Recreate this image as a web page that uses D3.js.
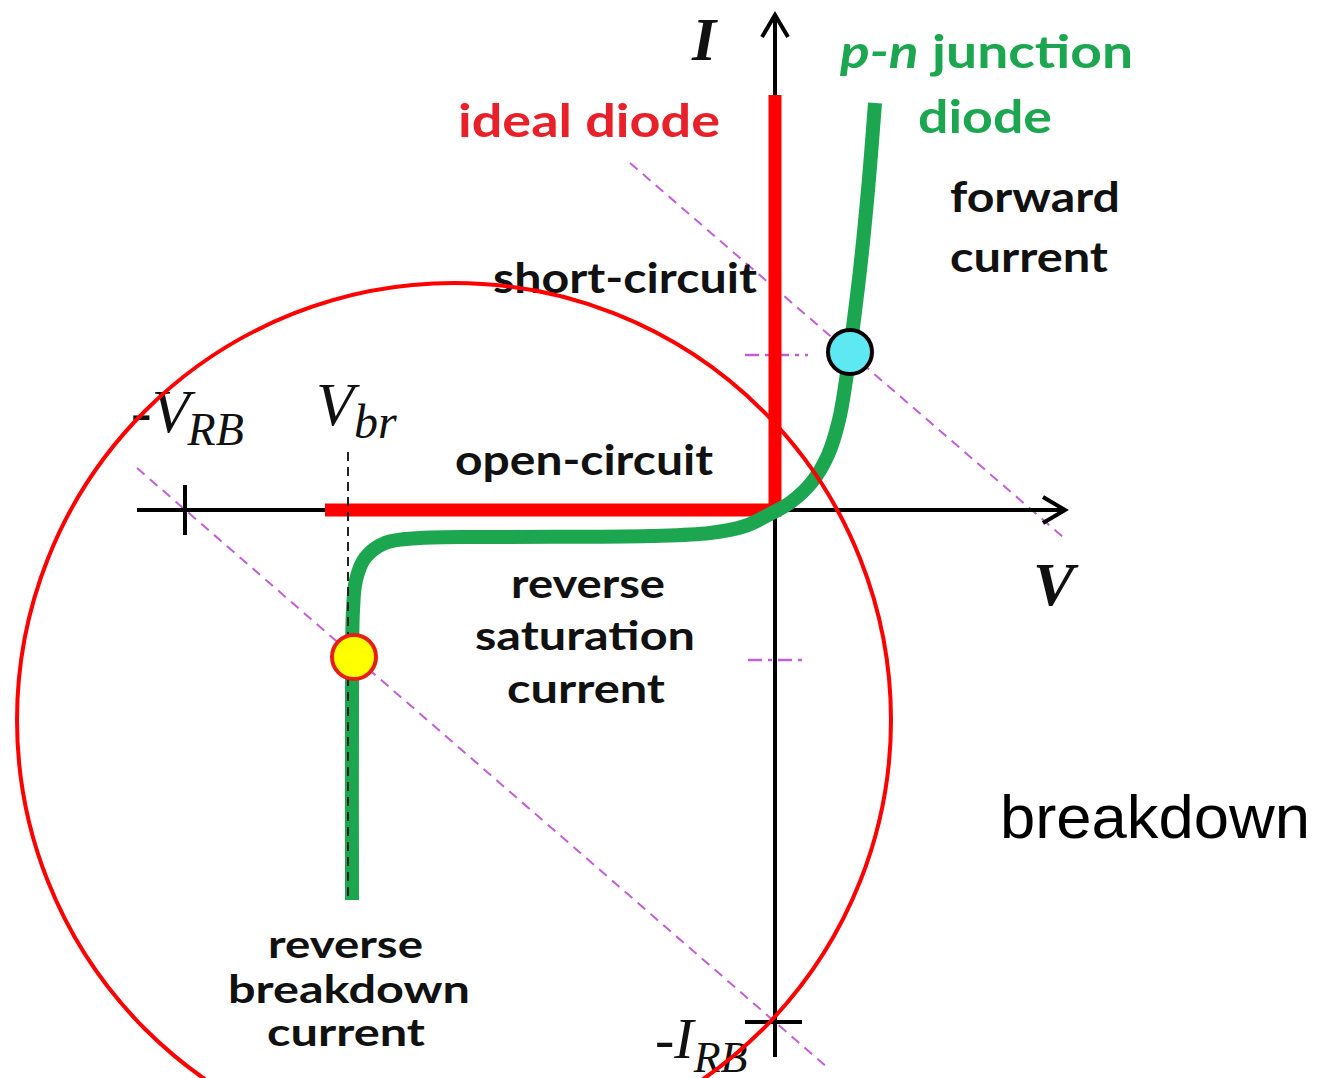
<!DOCTYPE html>
<html>
<head>
<meta charset="utf-8">
<script src="https://cdn.jsdelivr.net/npm/d3@7"></script>
<style>
html,body{margin:0;padding:0;background:#fff;}
svg{display:block;}
</style>
</head>
<body>
<svg id="chart" width="1317" height="1078"></svg>
<script>
// ---- data (abstract V / I units, origin at 0,0) ----
const vAxisExtent = [-6.38, 2.9];
const iAxisExtent = [-5.47, 4.95];
const idealDiode = [[-4.5, 0], [0, 0], [0, 4.15]];
const pnJunction = [
  [1.00, 4.07], [0.93, 3.20], [0.85, 2.40], [0.77, 1.75], [0.71, 1.30],
  [0.64, 0.90], [0.53, 0.55], [0.37, 0.28], [0.16, 0.08], [-0.05, -0.04],
  [-0.30, -0.16], [-0.65, -0.23], [-1.25, -0.26], [-2.75, -0.27],
  [-3.55, -0.28], [-3.90, -0.33], [-4.10, -0.48], [-4.19, -0.70],
  [-4.22, -1.00], [-4.23, -1.90], [-4.23, -3.90]
];
const forwardPoint = [0.75, 1.58];
const breakdownPoint = [-4.21, -1.47];
const loadLineForward = [[-1.45, 3.47], [2.88, -0.27]];
const loadLineReverse = [[-6.38, 0.42], [0.53, -5.58]];
const markerForward = [[-0.30, 1.55], [0.33, 1.55]];
const markerReverse = [[-0.27, -1.50], [0.33, -1.50]];
const VRB = -5.9;
const IRB = -5.12;
const Vbr = -4.27;
const VbrLine = [[Vbr, 0.58], [Vbr, -3.9]];

// ---- scales ----
const W = 1317, H = 1078;
const x = d3.scaleLinear().domain([-6.4, 2.9]).range([135, 1065]);
const y = d3.scaleLinear().domain([-5.5, 4.95]).range([1060, 15]);
const line = d3.line().x(d => x(d[0])).y(d => y(d[1]));
const svg = d3.select("#chart");

const purple = "#c25fd6";
const green = "#1ba64f";
const red = "#ff0000";

// load lines
[loadLineForward, loadLineReverse].forEach(d => {
  svg.append("path").attr("d", line(d)).attr("fill", "none")
    .attr("stroke", purple).attr("stroke-width", 2).attr("stroke-dasharray", "10,7");
});
[markerForward, markerReverse].forEach(d => {
  svg.append("path").attr("d", line(d)).attr("fill", "none")
    .attr("stroke", purple).attr("stroke-width", 2.5).attr("stroke-dasharray", "14,6,4,6");
});

// axes
const axisG = svg.append("g").attr("stroke", "#000").attr("fill", "none").attr("stroke-width", 4);
axisG.append("path").attr("d", line([[vAxisExtent[0], 0], [vAxisExtent[1], 0]]));
axisG.append("path").attr("d", line([[0, iAxisExtent[0]], [0, iAxisExtent[1]]]));
// arrow heads
const vt = [x(vAxisExtent[1]), y(0)];
axisG.append("path").attr("d", `M${vt[0]-22},${vt[1]-13}L${vt[0]},${vt[1]}L${vt[0]-22},${vt[1]+13}`);
const it = [x(0), y(iAxisExtent[1])];
axisG.append("path").attr("d", `M${it[0]-13},${it[1]+22}L${it[0]},${it[1]}L${it[0]+13},${it[1]+22}`);
// ticks
axisG.append("path").attr("d", line([[VRB, 0.25], [VRB, -0.25]]));
axisG.append("path").attr("d", line([[-0.30, IRB], [0.27, IRB]]));

// ideal diode
svg.append("path").attr("d", line(idealDiode)).attr("fill", "none")
  .attr("stroke", red).attr("stroke-width", 13).attr("stroke-linejoin", "miter");

// p-n junction
svg.append("path").attr("d", d3.line().x(d => x(d[0])).y(d => y(d[1])).curve(d3.curveCatmullRom.alpha(0.5))(pnJunction))
  .attr("fill", "none").attr("stroke", green).attr("stroke-width", 14);

// Vbr dashed
svg.append("path").attr("d", line(VbrLine)).attr("fill", "none")
  .attr("stroke", "#222").attr("stroke-width", 2).attr("stroke-dasharray", "9,6");

// operating points
svg.append("circle").attr("cx", x(forwardPoint[0])).attr("cy", y(forwardPoint[1])).attr("r", 22)
  .attr("fill", "#5ee8f2").attr("stroke", "#000").attr("stroke-width", 4);
svg.append("circle").attr("cx", x(breakdownPoint[0])).attr("cy", y(breakdownPoint[1])).attr("r", 22)
  .attr("fill", "#ffff00").attr("stroke", "#e81e10").attr("stroke-width", 4);

// text labels
const sans = "Lato, 'Open Sans', sans-serif";
function lab(t, x0, base, w, size, fill) {
  const el = svg.append("text").attr("x", x0).attr("y", base).attr("font-family", sans)
    .attr("font-weight", 700).attr("font-size", size).attr("fill", fill).text(t);
  if (w) el.attr("textLength", w).attr("lengthAdjust", "spacingAndGlyphs");
  return el;
}
lab("ideal diode", 458, 137, 262, 46, "#e8202a");
const pn = svg.append("text").attr("x", 840).attr("y", 68).attr("font-family", sans)
  .attr("font-weight", 700).attr("font-size", 46).attr("fill", green)
  .attr("textLength", 293).attr("lengthAdjust", "spacingAndGlyphs");
pn.append("tspan").attr("font-style", "italic").text("p-n");
pn.append("tspan").text(" junction");
lab("diode", 918, 133, 134, 46, green);
lab("forward", 950, 212, 170, 42, "#111");
lab("current", 950, 272, 158, 42, "#111");
lab("short-circuit", 493, 293, 264, 42, "#111");
lab("open-circuit", 455, 475, 258, 42, "#111");
lab("reverse", 511, 598, 154, 41, "#111");
lab("saturation", 475, 650, 220, 41, "#111");
lab("current", 507, 703, 158, 41, "#111");
lab("reverse", 268, 958, 155, 39, "#111");
lab("breakdown", 228, 1003, 242, 39, "#111");
lab("current", 267, 1046, 158, 39, "#111");

// math labels
const serif = "'Liberation Serif', 'DejaVu Serif', serif";
function mathLab(main, sub, x0, base, size, subSize, subBase, dx) {
  const t = svg.append("text").attr("x", x0).attr("y", base).attr("font-family", serif)
    .attr("font-style", "italic").attr("font-size", size).attr("fill", "#111");
  t.append("tspan").text(main);
  if (sub) t.append("tspan").attr("font-size", subSize).attr("dy", subBase - base).attr("dx", dx || 0).text(sub);
}
mathLab("-V", "RB", 131, 432, 62, 46, 445, -2);
mathLab("V", "br", 316, 425, 62, 48, 438, 0);
mathLab("-I", "RB", 655, 1058, 58, 44, 1072, 0);

svg.append("text").attr("x", 692).attr("y", 60).attr("font-family", serif)
  .attr("font-style", "italic").attr("font-weight", 700).attr("font-size", 62).attr("fill", "#111").text("I");
svg.append("text").attr("x", 1033).attr("y", 605).attr("font-family", serif)
  .attr("font-style", "italic").attr("font-weight", 700).attr("font-size", 62).attr("fill", "#111").text("V");

svg.append("text").attr("x", 1000).attr("y", 838).attr("font-family", "'Liberation Sans', Arial, sans-serif")
  .attr("font-size", 61).attr("fill", "#000").attr("textLength", 310).attr("lengthAdjust", "spacingAndGlyphs").text("breakdown");

// big red circle
svg.append("circle").attr("cx", 454).attr("cy", 720).attr("r", 437)
  .attr("fill", "none").attr("stroke", red).attr("stroke-width", 4);
</script>
</body>
</html>
